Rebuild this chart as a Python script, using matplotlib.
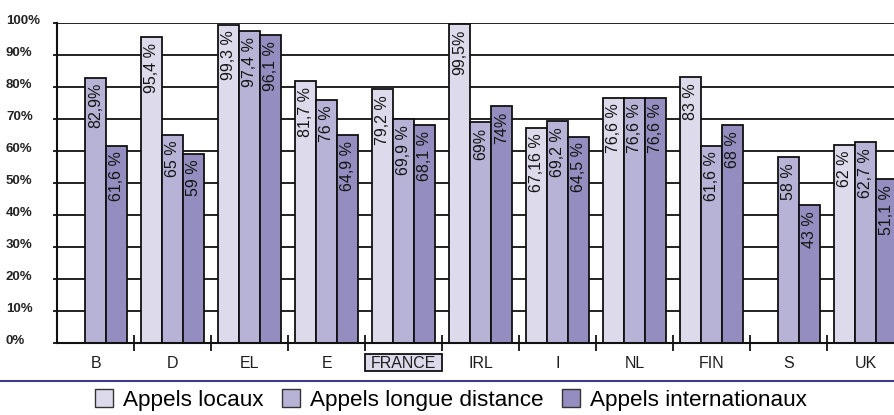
import numpy as np
import matplotlib
matplotlib.use("Agg")
import matplotlib.pyplot as plt
from matplotlib.patches import Rectangle, Patch
from matplotlib.lines import Line2D
from matplotlib.transforms import ScaledTranslation, blended_transform_factory

plt.rcParams["font.family"] = ["Liberation Sans", "DejaVu Sans"]

# Countries and share of calls per type (%)
countries = ["B", "D", "EL", "E", "FRANCE", "IRL", "I", "NL", "FIN", "S", "UK"]
highlight = "FRANCE"

local_calls = [np.nan, 95.4, 99.3, 81.7, 79.2, 99.5, 67.16, 76.6, 83, np.nan, 62]
long_distance_calls = [82.9, 65, 97.4, 76, 69.9, 69, 69.2, 76.6, 61.6, 58, 62.7]
international_calls = [61.6, 59, 96.1, 64.9, 68.1, 74, 64.5, 76.6, 68, 43, 51.1]

# Percent sign spacing used by each printed value
local_suffix = ["", " %", " %", " %", " %", "%", " %", " %", " %", "", " %"]
long_suffix = ["%", " %", " %", " %", " %", "%", " %", " %", " %", " %", " %"]
intl_suffix = [" %", " %", " %", " %", " %", "%", " %", " %", " %", " %", " %"]

series_names = ["Appels locaux", "Appels longue distance", "Appels internationaux"]
colors = ["#dddbeb", "#b7b3d6", "#948dbf"]

y_ticks = [0, 10, 20, 30, 40, 50, 60, 70, 80, 90, 100]


def fmt(v, suffix):
    return f"{v:g}".replace(".", ",") + suffix


W, H = 895, 415
fig = plt.figure(figsize=(W / 100, H / 100), dpi=100)
ax = fig.add_axes([57.3 / W, (H - 343.3) / H, 847 / W, 320.6 / H])

n = len(countries)
centers = np.arange(n) + 0.5
bw = 0.273
series = [(local_calls, local_suffix), (long_distance_calls, long_suffix),
          (international_calls, intl_suffix)]

for k, ((vals, suf), col) in enumerate(zip(series, colors)):
    xs = centers + (k - 1) * bw
    ax.bar(xs, vals, width=bw, color=col, edgecolor="#111111",
           linewidth=1.3, zorder=2)
    for x, v, s in zip(xs, vals, suf):
        if np.isnan(v):
            continue
        ax.annotate(fmt(v, s), (x, v), xytext=(0, -4),
                    textcoords="offset points", rotation=90,
                    ha="center", va="top", fontsize=11.5,
                    color="#141414", zorder=3)

ax.set_xlim(0, n)
ax.set_ylim(0, 100)

# horizontal rules
ax.set_yticks(y_ticks)
ax.set_yticklabels([f"{t}%" for t in y_ticks])
ax.yaxis.grid(True, color="#111111", linewidth=1.3)
ax.set_axisbelow(True)
ax.tick_params(axis="y", length=3, width=1.3, color="#111111",
               pad=34, labelsize=9.5, labelcolor="#222222")
for lab in ax.get_yticklabels():
    lab.set_ha("left")
    lab.set_fontweight("bold")
    lab.set_transform(lab.get_transform()
                      + ScaledTranslation(0, 3.5 / 100, fig.dpi_scale_trans))

# group separators on the baseline and country names
ax.set_xticks(np.arange(1, n))
ax.set_xticklabels([])
ax.tick_params(axis="x", which="major", direction="inout", length=11.5,
               width=1.3, color="#111111")
ax.set_xticks(centers, minor=True)
ax.set_xticklabels(countries, minor=True)
ax.tick_params(axis="x", which="minor", length=0, pad=9.3, labelsize=11.5,
               labelcolor="#1e1e1e")

for s in ["top", "right"]:
    ax.spines[s].set_visible(False)
for s in ["left", "bottom"]:
    ax.spines[s].set_color("#111111")
    ax.spines[s].set_linewidth(1.5)

# framed label for the highlighted country
hi = countries.index(highlight)
trans = blended_transform_factory(ax.transData, fig.transFigure)
ax.add_patch(Rectangle((hi, (H - 371) / H), 1, 17 / H, transform=trans,
                       facecolor=colors[0], edgecolor="#111111",
                       linewidth=1.3, clip_on=False, zorder=0.2))

# separator rule above the legend
fig.add_artist(Line2D([0, 1], [(H - 380.7) / H] * 2, color="#3f3c86",
                      linewidth=1.5, transform=fig.transFigure))

handles = [Patch(facecolor=c, edgecolor="#333333", linewidth=1.0)
           for c in colors]
fig.legend(handles, series_names, loc="center", ncol=3,
           bbox_to_anchor=(451 / W, (H - 400) / H), frameon=False,
           fontsize=16.2, handlelength=0.8, handleheight=0.8,
           handletextpad=0.45, columnspacing=0.8, borderpad=0,
           borderaxespad=0)

fig.savefig("out.png", dpi=100)
